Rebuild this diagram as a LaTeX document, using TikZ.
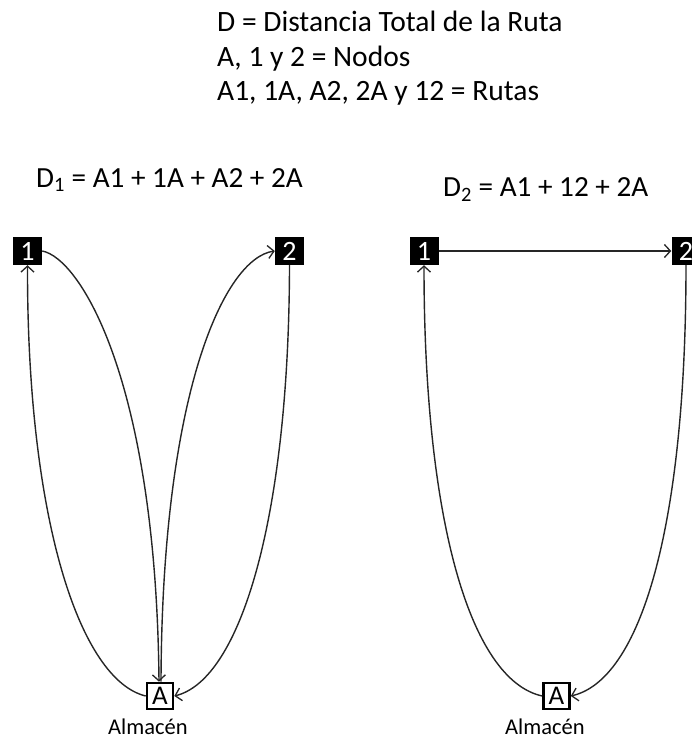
\documentclass[tikz,border=0pt]{standalone}
\usepackage{fontspec}
\setmainfont{Carlito}
\usetikzlibrary{arrows.meta}
\begin{document}
\begin{tikzpicture}[x=1pt,y=-1pt,
  numbox/.style={fill=black,text=white,minimum width=29pt,minimum height=28pt,inner sep=0pt,font=\fontsize{28}{28}\selectfont},
  depot/.style={draw=black,line width=2.6pt,fill=white,minimum width=26pt,minimum height=26pt,inner sep=0pt,font=\fontsize{27}{27}\selectfont},
  lbl/.style={anchor=base west,inner sep=0pt,font=\fontsize{29.5}{29.5}\selectfont},
  formula/.style={anchor=base west,inner sep=0pt,font=\fontsize{29.2}{29.2}\selectfont},
  caption/.style={anchor=base west,inner sep=0pt,font=\fontsize{22.5}{22.5}\selectfont},
  route/.style={draw=black!85,line width=1.4pt,-{Straight Barb[length=6pt,width=13pt,line width=1.3pt]}}
]
\useasboundingbox (0,0) rectangle (692,740);
% legend
\node[lbl] (t1) at (217,31) {D = Distancia Total de la Ruta};
\node[lbl] (t2) at (217,66) {A, 1 y 2 = Nodos};
\node[lbl] (t3) at (217,100) {A1, 1A, A2, 2A y 12 = Rutas};
% formulas
\node[formula] (f1) at (36,187) {D\textsubscript{1} = A1 + 1A + A2 + 2A};
\node[formula] (f2) at (443,196.5) {D\textsubscript{2} = A1 + 12 + 2A};
% left panel nodes
\node[numbox] (n1L) at (27.5,251) {1};
\node[numbox] (n2L) at (289.5,251) {2};
\node[depot] (aL) at (160,696) {A};
\node[caption] (cL) at (108,734) {Almacén};
% right panel nodes
\node[numbox] (n1R) at (424,251) {1};
\node[numbox] (n2R) at (686,251) {2};
\node[depot] (aR) at (556.5,696) {A};
\node[caption] (cR) at (505,734) {Almacén};
% left panel routes
\draw[route] (n1L.east) .. controls (80,258) and (156,380) .. ([xshift=-1pt]aL.north);
\draw[route] ([xshift=1pt]aL.north) .. controls (162,390) and (225,258) .. (n2L.west);
\draw[route] (n2L.south) .. controls (289,520) and (240,680) .. (aL.east);
\draw[route] (aL.west) .. controls (80,680) and (27,520) .. (n1L.south);
% right panel routes
\draw[route] (n1R.east) -- (n2R.west);
\draw[route] (n2R.south) .. controls (686,530) and (640,680) .. (aR.east);
\draw[route] (aR.west) .. controls (470,680) and (424,520) .. (n1R.south);
\end{tikzpicture}
\end{document}
